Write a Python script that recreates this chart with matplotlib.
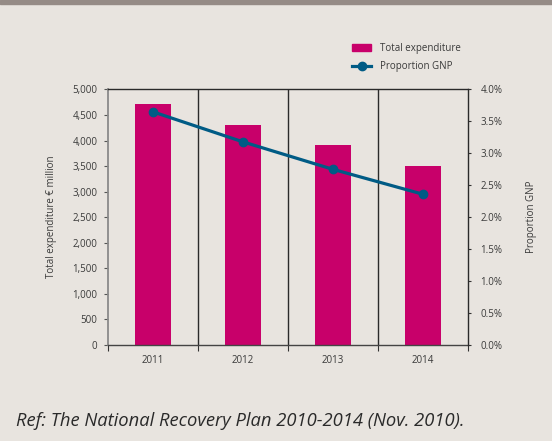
import matplotlib
matplotlib.use("Agg")
import matplotlib.pyplot as plt
from matplotlib.patches import Rectangle, Patch
from matplotlib.lines import Line2D
from matplotlib.ticker import FuncFormatter

years = ["2011", "2012", "2013", "2014"]
total_expenditure = [4720, 4310, 3915, 3505]
proportion_gnp = [3.65, 3.18, 2.75, 2.36]
left_ticks = [0, 500, 1000, 1500, 2000, 2500, 3000, 3500, 4000, 4500, 5000]
right_ticks = [0.0, 0.5, 1.0, 1.5, 2.0, 2.5, 3.0, 3.5, 4.0]

BG = "#E8E4DF"
BAR = "#C8006A"
LINE = "#005B85"
TXT = "#3a3a3a"
FONT = ["Open Sans", "DejaVu Sans"]
plt.rcParams["font.family"] = FONT

W, H = 552, 441
fig = plt.figure(figsize=(W / 100, H / 100), dpi=100, facecolor=BG)
fig.patches.append(Rectangle((0, 1 - 4 / H), 1, 4 / H, transform=fig.transFigure,
                             color="#958B86", zorder=0))

ax = fig.add_axes([108 / W, 1 - 345 / H, 360 / W, 255.5 / H])
ax.set_facecolor(BG)
x = list(range(len(years)))
ax.bar(x, total_expenditure, width=0.41, color=BAR, zorder=2)
ax.set_xlim(-0.5, len(years) - 0.5)
ax.set_ylim(left_ticks[0], left_ticks[-1])
for b in [i + 0.5 for i in x[:-1]]:
    ax.axvline(b, color="#2a2a2a", lw=1.0, zorder=1)

ax.set_yticks(left_ticks)
ax.yaxis.set_major_formatter(FuncFormatter(lambda v, p: f"{int(v):,}"))
ax.tick_params(axis="y", length=3, width=0.8, color="#555555", labelsize=7,
               labelcolor=TXT, pad=4.5)
ax.set_xticks([i - 0.5 for i in x] + [x[-1] + 0.5])
ax.set_xticklabels([])
ax.set_xticks(x, minor=True)
ax.set_xticklabels(years, minor=True)
ax.tick_params(axis="x", which="major", length=4, width=0.8, color="#333333")
ax.tick_params(axis="x", which="minor", length=0, labelsize=7, labelcolor=TXT, pad=7.5)

ax.spines["left"].set_color("#8a8a8a")
ax.spines["left"].set_linewidth(1.3)
ax.spines["bottom"].set_color("#444444")
ax.spines["bottom"].set_linewidth(1.0)
ax.spines["top"].set_color("#2a2a2a")
ax.spines["top"].set_linewidth(1.0)
ax.spines["right"].set_visible(False)
ax.set_ylabel("Total expenditure € million", fontsize=7, color=TXT, labelpad=11)

ax2 = ax.twinx()
ax2.plot(x, proportion_gnp, color=LINE, lw=2.3, marker="o", markersize=6,
         zorder=3)
ax2.set_ylim(right_ticks[0], right_ticks[-1])
ax2.set_yticks(right_ticks)
ax2.yaxis.set_major_formatter(FuncFormatter(lambda v, p: f"{v:.1f}%"))
ax2.tick_params(axis="y", length=2, width=0.8, color="#333333", labelsize=7,
                labelcolor=TXT, pad=7)
for s in ["left", "top", "bottom"]:
    ax2.spines[s].set_visible(False)
ax2.spines["right"].set_color("#2a2a2a")
ax2.spines["right"].set_linewidth(1.0)
ax2.set_ylabel("Proportion GNP", fontsize=7, color=TXT, labelpad=17)

handles = [Patch(color=BAR, label="Total expenditure"),
           Line2D([], [], color=LINE, lw=2.3, marker="o", markersize=6,
                  label="Proportion GNP")]
fig.legend(handles=handles, loc="upper left",
           bbox_to_anchor=(352 / W, 1 - 43 / H), frameon=False, fontsize=7,
           handlelength=2.0, handletextpad=0.9, labelspacing=0.75,
           borderpad=0, borderaxespad=0, labelcolor=TXT)

fig.text(16 / W, 1 - 421 / H, "Ref: The National Recovery Plan 2010-2014 (Nov. 2010).",
         fontsize=13.2, style="italic", color="#2a2a2a", va="center", ha="left")

fig.savefig("out.png", dpi=100, facecolor=BG)
